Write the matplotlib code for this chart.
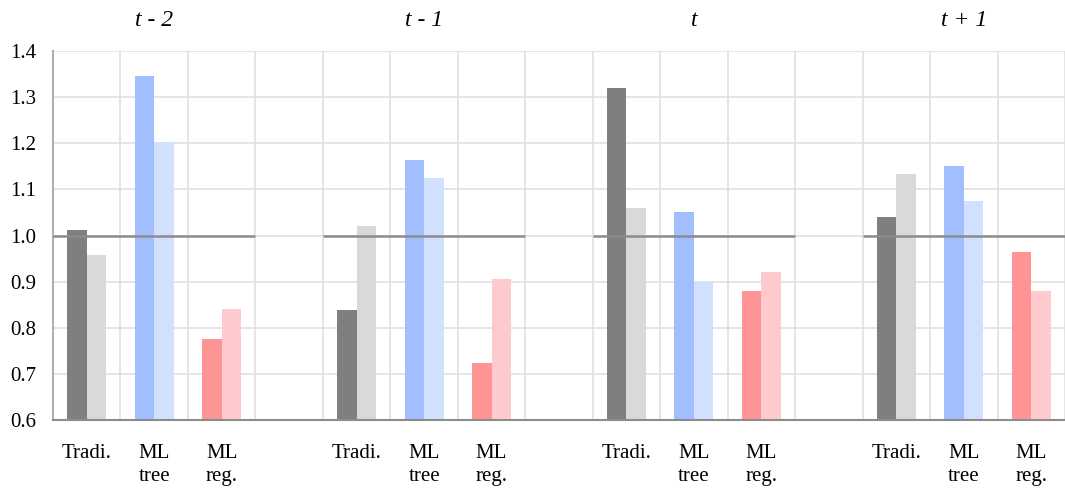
import matplotlib
matplotlib.use("Agg")
import matplotlib.pyplot as plt
import matplotlib.transforms as mtransforms
import numpy as np

periods = ["t - 2", "t - 1", "t", "t + 1"]
categories = ["Tradi.", "ML\ntree", "ML\nreg."]
# first bar (dark) and second bar (light) per category, per period
dark_vals = [
    [1.012, 1.345, 0.775],
    [0.838, 1.163, 0.723],
    [1.319, 1.051, 0.879],
    [1.040, 1.150, 0.964],
]
light_vals = [
    [0.957, 1.202, 0.840],
    [1.020, 1.124, 0.905],
    [1.059, 0.900, 0.921],
    [1.133, 1.074, 0.879],
]
dark_colors = ["#7f7f7f", "#a1bfff", "#ff9494"]
light_colors = ["#d9d9d9", "#d1e0ff", "#ffcacd"]
y_ticks = [0.6, 0.7, 0.8, 0.9, 1.0, 1.1, 1.2, 1.3, 1.4]
ref_value = 1.0

plt.rcParams["font.family"] = ["Liberation Serif", "DejaVu Serif"]

W, H = 1065, 490
fig = plt.figure(figsize=(W / 100, H / 100), dpi=100)
left_px = 53
ax = fig.add_axes([left_px / W, 70 / H, 1 - left_px / W, (420 - 51) / H])

slots_per_group = 4
bw = 0.29
tick_pos = []
tick_lab = []
title_tr = mtransforms.blended_transform_factory(ax.transData, fig.transFigure)
for g, p in enumerate(periods):
    base = g * slots_per_group
    for c, cat in enumerate(categories):
        center = base + c + 0.5
        ax.bar(center - bw / 2, dark_vals[g][c] - 0.6, bottom=0.6, width=bw,
               color=dark_colors[c], zorder=2)
        ax.bar(center + bw / 2, light_vals[g][c] - 0.6, bottom=0.6, width=bw,
               color=light_colors[c], zorder=2)
        tick_pos.append(center)
        tick_lab.append(cat)
    ax.hlines(ref_value, base, base + 3, color="#8c8c8c", lw=1.8, zorder=3)
    ax.text(base + 1.5, 1.0 - 21 / H, p, transform=title_tr,
            ha="center", va="center", fontsize=17, style="italic")

ax.set_xlim(0, (W - left_px) / 68.0)
ax.set_ylim(0.6, 1.4)
ax.set_yticks(y_ticks)
ax.set_yticklabels([f"{v:.1f}" for v in y_ticks], fontsize=15)
ax.set_xticks(tick_pos)
ax.set_xticklabels(tick_lab, fontsize=15, linespacing=1.3)
ax.set_xticks(np.arange(0, 16), minor=True)
ax.tick_params(axis="both", which="both", length=0)
ax.tick_params(axis="x", pad=17)
ax.tick_params(axis="y", pad=12)
ax.grid(axis="y", which="major", color="#e0e0e0", lw=1.2, zorder=0)
ax.grid(axis="x", which="minor", color="#e0e0e0", lw=1.2, zorder=0)
ax.set_axisbelow(True)
for s in ["top", "right"]:
    ax.spines[s].set_visible(False)
ax.spines["left"].set_color("#b0b0b0")
ax.spines["left"].set_linewidth(1.5)
ax.spines["bottom"].set_color("#8c8c8c")
ax.spines["bottom"].set_linewidth(1.5)

fig.savefig("out.png", dpi=100)
